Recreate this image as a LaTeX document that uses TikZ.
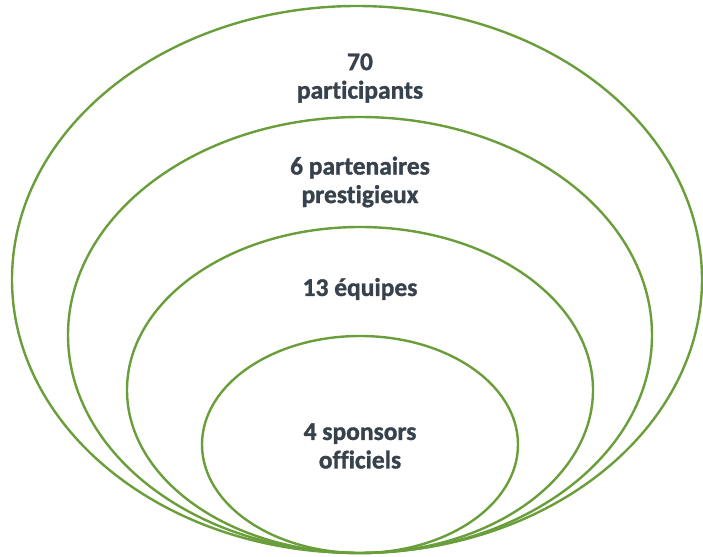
\documentclass[tikz,border=0pt]{standalone}
\usepackage{fontspec}
\setmainfont{Carlito-Regular.ttf}[BoldFont=Carlito-Bold.ttf,BoldFeatures={FakeBold=1.2},Ligatures=NoCommon]
\usepackage{tikz}

\definecolor{ringgreen}{RGB}{106,158,58}
\definecolor{labelgray}{RGB}{55,66,76}

\tikzset{
  ring/.style={draw=ringgreen, line width=2.4pt},
  lbl/.style={text=labelgray, font=\fontsize{25.5}{28.5}\selectfont\bfseries, align=center, inner sep=0pt}
}

\begin{document}
\begin{tikzpicture}[x=1pt,y=-1pt]
    \useasboundingbox (0,0) rectangle (703,556);

    \draw[ring] (357,279.5) ellipse [x radius=345pt, y radius=273.5pt];
    \draw[ring] (360,335) ellipse [x radius=292pt, y radius=218pt];
    \draw[ring] (360,390) ellipse [x radius=233pt, y radius=163pt];
    \draw[ring] (360,444.5) ellipse [x radius=158pt, y radius=108.5pt];

    \node[lbl] (participants) at (360,78) {70\\participants};
    \node[lbl] (partners) at (360,182) {6 partenaires\\prestigieux};
    \node[lbl] (teams) at (360,289) {13 équipes};
    \node[lbl] (sponsors) at (360,446) {4 sponsors\\officiels};

\end{tikzpicture}
\end{document}
